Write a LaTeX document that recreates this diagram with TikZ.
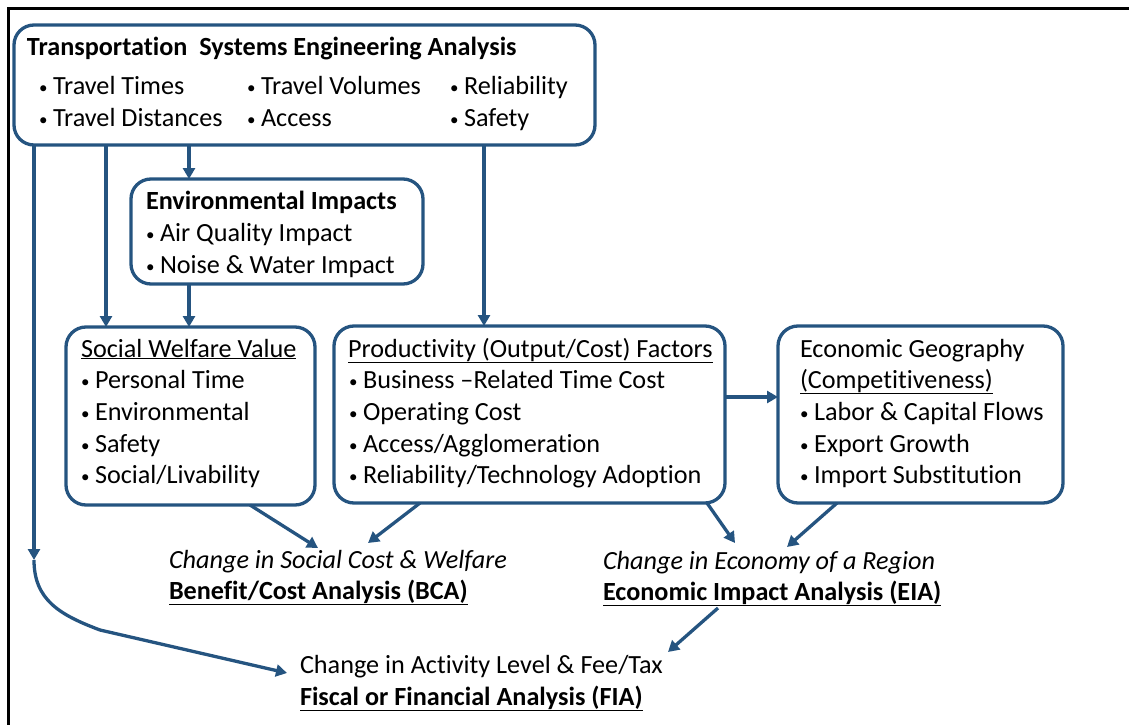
\documentclass[tikz,border=0pt]{standalone}
\usepackage{fontspec}
\setmainfont{Carlito}[Ligatures={NoCommon}]
\usetikzlibrary{arrows.meta}
\definecolor{dblue}{RGB}{37,84,128}
\newcommand{\bul}{\makebox[14pt][l]{\raisebox{1pt}{\fontsize{17}{20}\selectfont •}}}
\begin{document}
\begin{tikzpicture}[x=1pt,y=-1pt,
  every node/.style={font=\fontsize{26.2}{30}\selectfont, inner sep=0pt, outer sep=0pt},
  box/.style={draw=dblue, line width=3.3pt, rounded corners=20pt},
  txt/.style={anchor=base west, text=black},
  arr/.style={draw=dblue, line width=3.3pt, -{Triangle[length=11pt,width=12pt]}},
  frameline/.style={draw=black, line width=2.8pt}
]
\useasboundingbox (0,0) rectangle (1129,725);
\coordinate (fa) at (8.7,725);
\coordinate (fb) at (8.7,8.7);
\coordinate (fc) at (1129,8.7);
\draw[frameline] (fa) -- (fb) -- (fc);

% boxes
\node[box, minimum width=581pt, minimum height=120pt] (top) at (304.5,85) {};
\node[box, minimum width=292pt, minimum height=105pt] (env) at (277,231.5) {};
\node[box, minimum width=249pt, minimum height=178pt] (sw) at (190.5,416) {};
\node[box, minimum width=391pt, minimum height=177pt] (prod) at (529.5,414.5) {};
\node[box, minimum width=285pt, minimum height=177pt] (geo) at (920.5,414.5) {};

% top box text
\node[txt] (t0) at (27,56) {\bfseries Transportation\ \ Systems Engineering Analysis};
\node[txt] (t11) at (39,94) {\bul Travel Times};
\node[txt] (t12) at (247,94) {\bul Travel Volumes};
\node[txt] (t13) at (450,94) {\bul Reliability};
\node[txt] (t21) at (39,126) {\bul Travel Distances};
\node[txt] (t22) at (247,126) {\bul Access};
\node[txt] (t23) at (450,126) {\bul Safety};

% environmental
\node[txt] (e0) at (146,209) {\bfseries Environmental Impacts};
\node[txt] (e1) at (146,241) {\bul Air Quality Impact};
\node[txt] (e2) at (146,273) {\bul Noise \& Water Impact};

% social welfare
\node[txt] (s0) at (81,357) {\underline{Social Welfare Value}};
\node[txt] (s1) at (81,388) {\bul Personal Time};
\node[txt] (s2) at (81,420) {\bul Environmental};
\node[txt] (s3) at (81,452) {\bul Safety};
\node[txt] (s4) at (81,483) {\bul Social/Livability};

% productivity
\node[txt] (p0) at (348,357) {\underline{Productivity (Output/Cost) Factors}};
\node[txt] (p1) at (349,388) {\bul Business –Related Time Cost};
\node[txt] (p2) at (349,420) {\bul Operating Cost};
\node[txt] (p3) at (349,452) {\bul Access/Agglomeration};
\node[txt] (p4) at (349,483) {\bul Reliability/Technology Adoption};

% economic geography
\node[txt] (g0) at (800,357) {Economic Geography};
\node[txt] (g1) at (800,388) {\underline{(Competitiveness)}};
\node[txt] (g2) at (800,420) {\bul Labor \& Capital Flows};
\node[txt] (g3) at (800,452) {\bul Export Growth};
\node[txt] (g4) at (800,483) {\bul Import Substitution};

% outcome texts
\node[txt] (bca1) at (169,568) {\itshape Change in Social Cost \& Welfare};
\node[txt] (bca2) at (169,599) {\bfseries\underline{Benefit/Cost Analysis (BCA)}};
\node[txt] (eia1) at (603,569) {\itshape Change in Economy of a Region};
\node[txt] (eia2) at (603,600) {\bfseries\underline{Economic Impact Analysis (EIA)}};
\node[txt] (fia1) at (300,673) {Change in Activity Level \& Fee/Tax};
\node[txt] (fia2) at (300,705) {\bfseries\underline{Fiscal or Financial Analysis (FIA)}};

% connector helper coordinates
\coordinate (xa) at (34,0);
\coordinate (xb) at (106,0);
\coordinate (xc) at (189,0);
\coordinate (xd) at (484,0);
\coordinate (ye) at (0,397);
\coordinate (xs1) at (250,0);
\coordinate (xs2) at (420,0);
\coordinate (xs3) at (707,0);
\coordinate (xs4) at (837,0);
\coordinate (ta) at (34,560);
\coordinate (kink) at (100,630);
\coordinate (fiaT) at (287,673);
\coordinate (bcaA) at (318,548);
\coordinate (bcaB) at (368,543);
\coordinate (eiaA) at (735,543);
\coordinate (eiaB) at (787,547);
\coordinate (eiaS) at (718,608);
\coordinate (fiaB) at (668,652);

% connectors
\draw[arr] (top.south -| xa) -- (ta);
\draw[arr] (ta) .. controls (34,600) and (60,615) .. (kink) -- (fiaT);
\draw[arr] (top.south -| xb) -- (sw.north -| xb);
\draw[arr] (top.south -| xc) -- (env.north -| xc);
\draw[arr] (env.south -| xc) -- (sw.north -| xc);
\draw[arr] (top.south -| xd) -- (prod.north -| xd);
\draw[arr] (prod.east |- ye) -- (geo.west |- ye);
\draw[arr] (sw.south -| xs1) -- (bcaA);
\draw[arr] (prod.south -| xs2) -- (bcaB);
\draw[arr] (prod.south -| xs3) -- (eiaA);
\draw[arr] (geo.south -| xs4) -- (eiaB);
\draw[arr] (eiaS) -- (fiaB);
\end{tikzpicture}
\end{document}
